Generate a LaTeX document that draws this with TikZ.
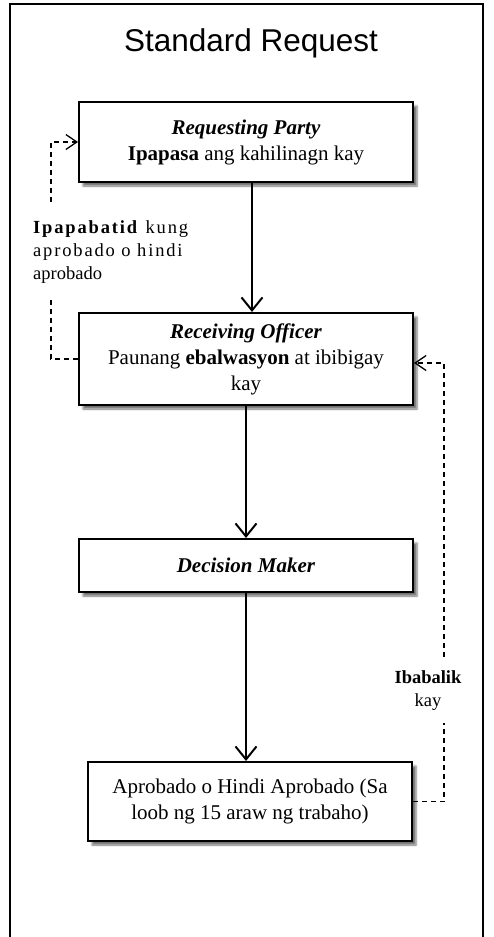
\documentclass[tikz,border=0pt]{standalone}
\usepackage{fontspec}
\setmainfont{Liberation Serif}
\newfontfamily\titlefont{Liberation Sans}
\newfontfamily\spacedfont[LetterSpace=10]{Liberation Serif}
\usetikzlibrary{arrows.meta,shadows.blur,positioning}
\tikzstyle{stepnode}=[rectangle, draw=black, fill=white, line width=2, align=center, minimum width=334pt, inner sep=0pt, font=\fontsize{21}{26}\selectfont, blur shadow={shadow xshift=4pt, shadow yshift=-4pt, shadow opacity=55}]
\tikzstyle{lbl}=[inner sep=0pt, font=\fontsize{18.5}{23}\selectfont]
\tikzstyle{flow}=[line width=2, -{Straight Barb[length=13pt,width=21pt]}]
\tikzstyle{back}=[line width=1.3, dash pattern=on 5pt off 4pt]
\tikzstyle{backarrow}=[back, -{Straight Barb[length=11pt,width=15pt]}]

\begin{document}
\begin{tikzpicture}[x=1pt, y=-1pt]
    \useasboundingbox (0,0) rectangle (493,937);
    \draw[line width=1.6] (10,937) -- (10,4) -- (483,4) -- (483,937);

    \node[font=\titlefont\fontsize{31.5}{37}\selectfont] (title) at (251,43) {Standard Request};

    \node[stepnode, minimum height=80pt] (req) at (246,142) {\textbf{\textit{Requesting Party}}\\\textbf{Ipapasa} ang kahilinagn kay};
    \node[stepnode, minimum height=92pt] (rec) at (246,359) {\textbf{\textit{Receiving Officer}}\\Paunang \textbf{ebalwasyon} at ibibigay\\kay};
    \node[stepnode, minimum height=53pt] (dec) at (246,565.5) {\textbf{\textit{Decision Maker}}};
    \node[stepnode, minimum width=324pt, minimum height=79pt] (apr) at (250,801.5) {Aprobado o Hindi Aprobado (Sa\\loob ng 15 araw ng trabaho)};

    \node[lbl, anchor=west, align=left] (notify) at (33,252) {{\spacedfont\textbf{Ipapabatid} kung}\\{\spacedfont aprobado o hindi}\\aprobado};
    \node[lbl, align=center] (ret) at (428,691) {\textbf{Ibabalik}\\kay};

    \coordinate (n1) at (51,300);
    \coordinate (n2) at (51,202);
    \coordinate (r1) at (444,723);
    \coordinate (r2) at (444,657);

    \draw[flow] ([xshift=6pt]req.south) -- ([xshift=6pt]req.south |- rec.north);
    \draw[flow] (rec.south) -- (dec.north);
    \draw[flow] (dec.south) -- (dec.south |- apr.north);

    \draw[back] (rec.west) -| (n1);
    \draw[backarrow] (n2) |- (req.west);
    \draw[back] (apr.east) -| (r1);
    \draw[backarrow] (r2) |- ([yshift=-4pt]rec.east);
\end{tikzpicture}
\end{document}
